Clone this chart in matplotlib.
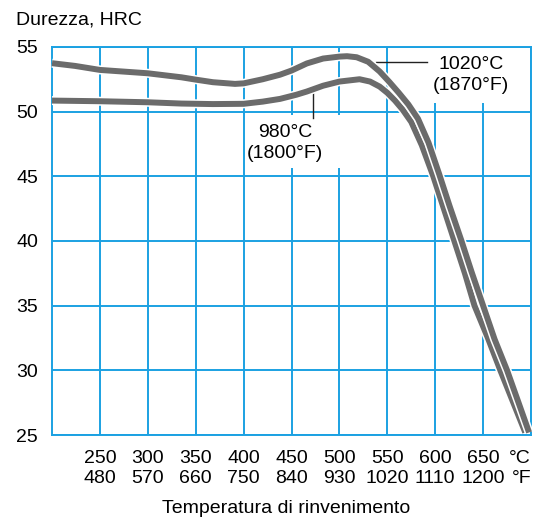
import matplotlib
matplotlib.use("Agg")
import matplotlib.pyplot as plt
import matplotlib.patheffects as pe
from matplotlib.patches import Rectangle

plt.rcParams["font.family"] = ["Liberation Sans", "DejaVu Sans"]

# tempering temperature axis (deg C) with Fahrenheit equivalents
celsius = [250, 300, 350, 400, 450, 500, 550, 600, 650]
fahrenheit = [480, 570, 660, 750, 840, 930, 1020, 1110, 1200]
hrc_ticks = [25, 30, 35, 40, 45, 50, 55]

# hardening at 1020 C (1870 F)
t_1020 = [200, 224, 250, 300, 335, 350, 368, 391, 400, 420, 438, 450, 466, 483,
          500, 508, 518, 530, 542, 552, 562, 572, 582, 593, 604, 615, 627, 638,
          650, 662, 675, 687, 698]
h_1020 = [53.74, 53.53, 53.22, 52.96, 52.65, 52.47, 52.27, 52.14, 52.18, 52.5,
          52.85, 53.17, 53.72, 54.1, 54.25, 54.28, 54.2, 53.85, 53.1, 52.3,
          51.45, 50.55, 49.45, 47.6, 45.2, 42.7, 40.1, 37.6, 35.0, 32.4, 30.0,
          27.5, 25.2]

# hardening at 980 C (1800 F)
t_980 = [200, 250, 300, 335, 368, 400, 420, 438, 455, 466, 483, 500, 521, 532,
         542, 550, 558, 566, 575, 586, 598, 609, 620, 631, 641, 655, 668, 681,
         694]
h_980 = [50.85, 50.8, 50.72, 50.62, 50.58, 50.6, 50.77, 50.98, 51.3, 51.55,
         52.0, 52.32, 52.5, 52.32, 51.93, 51.45, 50.85, 50.15, 49.2, 47.4, 45.0,
         42.5, 40.0, 37.5, 35.0, 32.5, 30.0, 27.6, 25.2]

blue = "#1ba1e2"
grey = "#6b6b6b"
fs = 14

fig = plt.figure(figsize=(5.34, 5.21), dpi=100)
ax = fig.add_axes([0.0974, 0.165, 0.897, 0.745])
ax.set_xlim(200, 700)
ax.set_ylim(25, 55)

ax.set_xticks(celsius + [700])
ax.set_xticklabels([f"{c}\n{f}" for c, f in zip(celsius, fahrenheit)] + ["°C\n°F"],
                   fontsize=fs, linespacing=1.2)
ax.get_xticklabels()[-1].set_ha("right")
ax.set_yticks(hrc_ticks)
ax.set_yticklabels([str(v) for v in hrc_ticks], fontsize=fs)
ax.tick_params(axis="x", length=0, pad=11)
ax.tick_params(axis="y", length=0, pad=10)
ax.grid(True, color=blue, lw=1.4)
ax.set_axisbelow(True)
for s in ax.spines.values():
    s.set_color(blue)
    s.set_linewidth(1.4)

# white outline keeps the two curves apart where they touch
fx = [pe.Stroke(linewidth=6.5, foreground="white"), pe.Normal()]
ax.plot(t_980, h_980, color=grey, lw=4.3, solid_capstyle="butt",
        solid_joinstyle="round", path_effects=fx, zorder=4, clip_on=False)
ax.plot(t_1020, h_1020, color=grey, lw=4.3, solid_capstyle="butt",
        solid_joinstyle="round", path_effects=fx, zorder=5, clip_on=False)

# label backgrounds blank out the grid behind the curve labels
ax.add_patch(Rectangle((595, 50.7), 85, 4.2, facecolor="white", edgecolor="none", zorder=2))
ax.add_patch(Rectangle((407, 45.65), 96, 4.1, facecolor="white", edgecolor="none", zorder=2))

ax.text(637, 52.85, "1020°C\n(1870°F)", ha="center", va="center", fontsize=fs,
        linespacing=1.3, zorder=3)
ax.plot([538, 591], [53.84, 53.84], color="#222222", lw=1.0, zorder=3)
ax.text(443, 47.6, "980°C\n(1800°F)", ha="center", va="center", fontsize=fs,
        linespacing=1.3, zorder=3)
ax.plot([472.5, 472.5], [51.6, 49.5], color="#222222", lw=1.0, zorder=3)

fig.text(0.03, 0.962, "Durezza, HRC", fontsize=fs, va="center", ha="left")
fig.text(0.5365, 0.008, "Temperatura di rinvenimento", fontsize=fs,
         ha="center", va="bottom")

fig.savefig("out.png", dpi=100)
plt.close(fig)
